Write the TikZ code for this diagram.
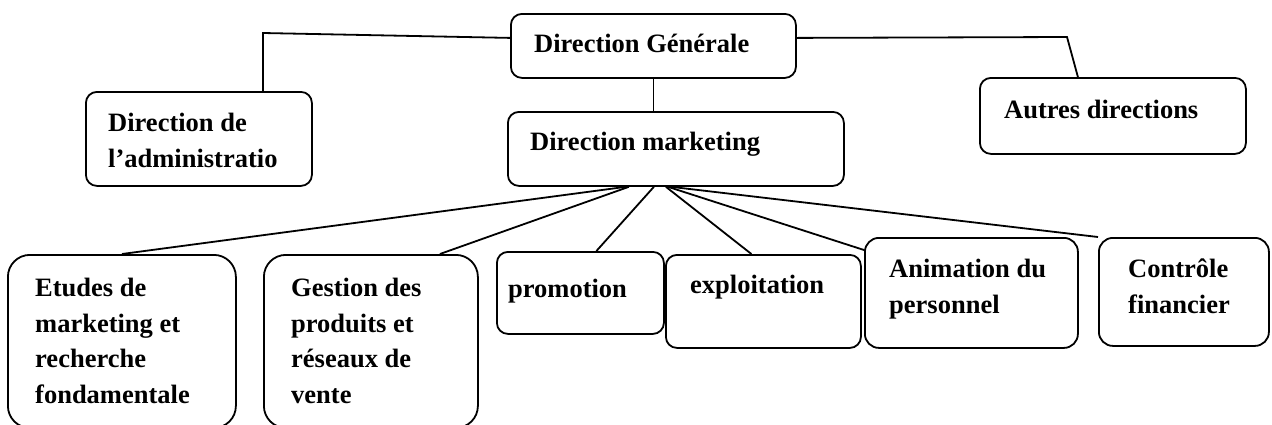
\documentclass[tikz,border=0pt]{standalone}
\usepackage{fontspec}
\setmainfont{Liberation Serif}
\begin{document}
\begin{tikzpicture}[x=1pt,y=-1pt,
  box/.style={draw, line width=1.8pt, rounded corners=#1, inner sep=0pt, anchor=north west},
  box/.default=11pt,
  lbl/.style={anchor=base west, inner sep=0pt, align=left,
    font=\bfseries\fontsize{26.5}{35.5}\selectfont},
  link/.style={line width=1.8pt}]
\clip (0,0) rectangle (1272,424);

% boxes
\node[box, minimum width=285pt, minimum height=64pt] (dg) at (510,13) {};
\node[box, minimum width=226pt, minimum height=94pt] (adm) at (85,91) {};
\node[box, minimum width=336pt, minimum height=74pt] (mk) at (507,111) {};
\node[box, minimum width=266pt, minimum height=76pt] (aut) at (979,77) {};
\node[box=22pt, minimum width=228pt, minimum height=173pt] (etu) at (7,254) {};
\node[box=22pt, minimum width=214pt, minimum height=173pt] (ges) at (263,254) {};
\node[box, minimum width=167pt, minimum height=82pt] (pro) at (496,251) {};
\node[box, minimum width=195pt, minimum height=93pt] (exp) at (665,254) {};
\node[box=14pt, minimum width=213pt, minimum height=110pt] (ani) at (864,237) {};
\node[box=14pt, minimum width=170pt, minimum height=108pt] (con) at (1098,237) {};

% labels (anchored on the baseline of their last line)
\node[lbl] (tdg) at (534,52) {Direction Générale};
\node[lbl] (tadm) at (108,167) {Direction de\\l’administratio};
\node[lbl] (tmk) at (530,150) {Direction marketing};
\node[lbl] (taut) at (1004,118) {Autres directions};
\node[lbl] (tetu) at (35,403) {Etudes de\\marketing et\\recherche\\fondamentale};
\node[lbl] (tges) at (291,403) {Gestion des\\produits et\\réseaux de\\vente};
\node[lbl] (tpro) at (508,297) {promotion};
\node[lbl] (texp) at (690,293) {exploitation};
\node[lbl] (tani) at (889,313) {Animation du\\personnel};
\node[lbl] (tcon) at (1128,313) {Contrôle\\financier};

% connectors
\coordinate (k1) at (263,33);
\coordinate (k2) at (1067,37);
\draw[link] ([yshift=8pt]dg.west) -- (k1) -- (k1 |- adm.north);
\draw[link] ([yshift=8pt]dg.east) -- (k2) -- ([xshift=-35pt]aut.north);
\draw[link] (dg.south) -- (dg.south |- mk.north);
\draw[link] ([xshift=-50pt]mk.south) -- (etu.north);
\draw[link] ([xshift=-47pt]mk.south) -- ([xshift=69pt]ges.north);
\draw[link] ([xshift=-22pt]mk.south) -- ([xshift=16pt]pro.north);
\draw[link] ([xshift=-10pt]mk.south) -- ([xshift=-12pt]exp.north);
\draw[link] ([xshift=-8pt]mk.south) -- ([yshift=-13pt]ani.north west);
\draw[link] ([xshift=-5pt]mk.south) -- (con.north west);
\end{tikzpicture}
\end{document}
